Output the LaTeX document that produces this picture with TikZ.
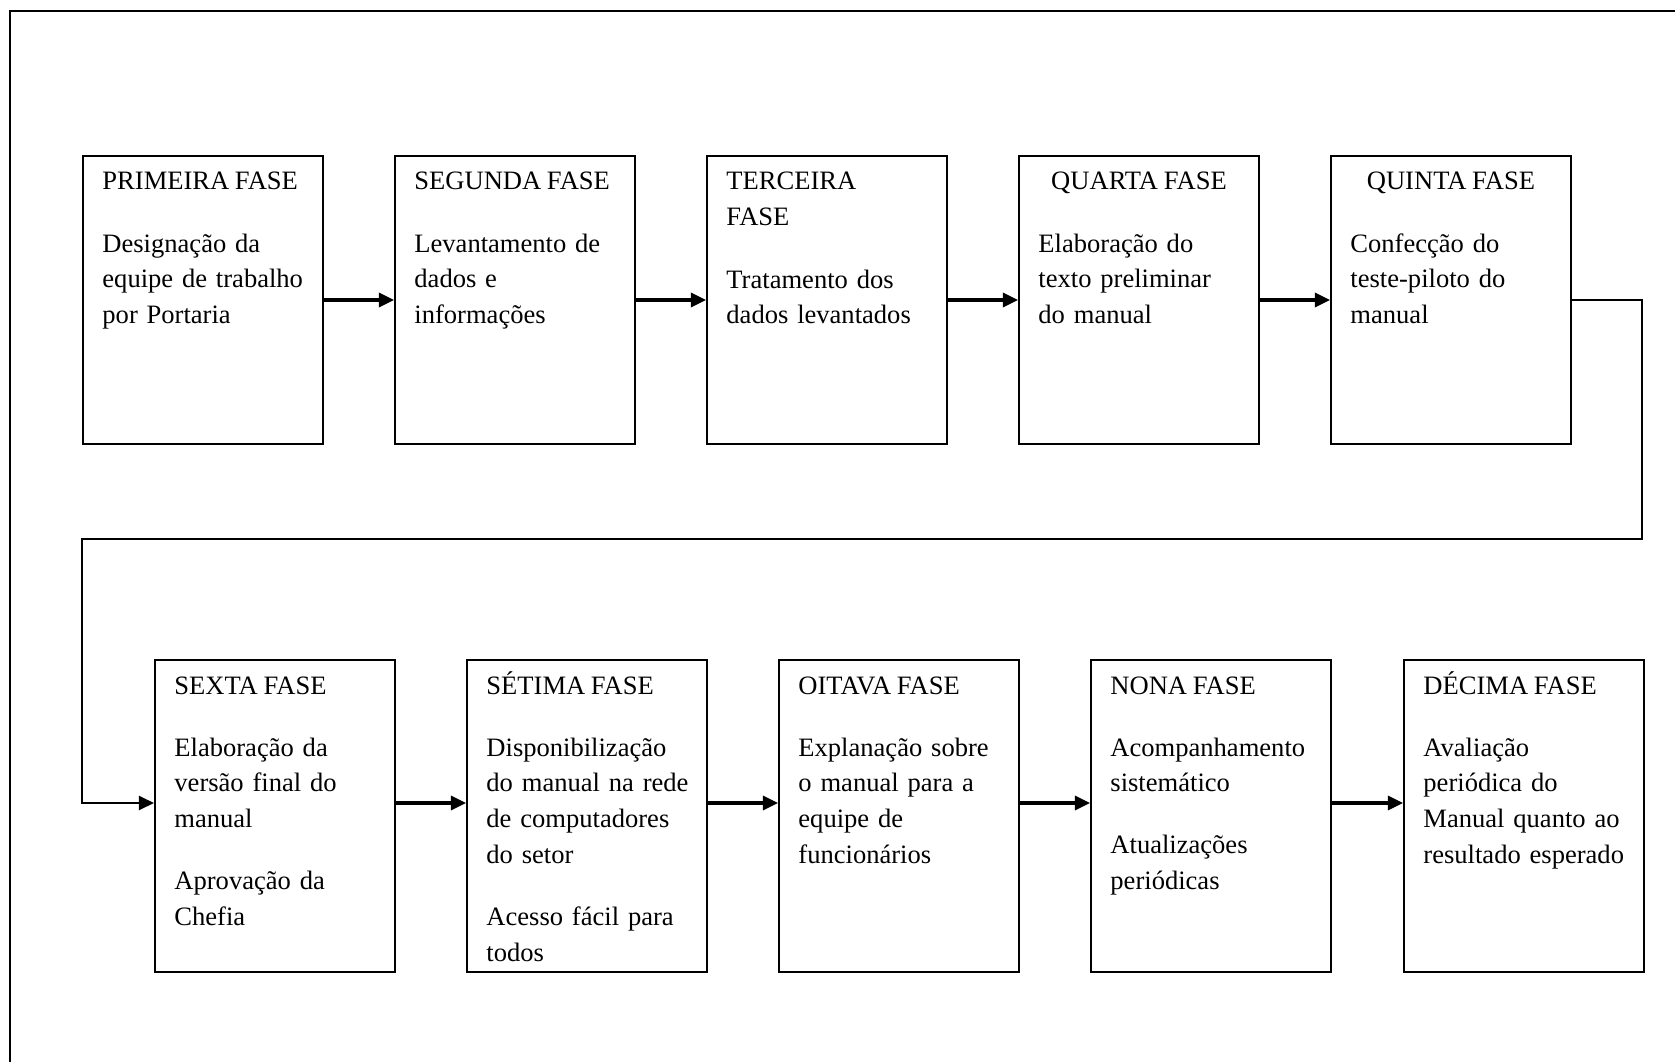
\documentclass[tikz,border=0pt]{standalone}
\usepackage{fontspec}
\setmainfont{Liberation Serif}[WordSpace=0.85]
\usetikzlibrary{arrows.meta,calc}
\begin{document}
\begin{tikzpicture}[x=0.45pt,y=-0.45pt,
  txt/.style={inner sep=0pt,font=\fontsize{11.95pt}{16.1pt}\selectfont},
  box/.style={draw,line width=0.9pt,minimum width=108pt,inner sep=0pt,anchor=north west},
  rowa/.style={box,minimum height=129.6pt},
  rowb/.style={box,minimum height=140.4pt},
  hd/.style={txt,anchor=base west},
  hdc/.style={txt,anchor=base},
  bd/.style={txt,anchor=base west,align=left,text width=100pt},
  arr/.style={-{Triangle[length=6.8pt,width=6.3pt]},line width=1.4pt},
  loopline/.style={-{Triangle[length=6.8pt,width=6.3pt]},line width=1.1pt}]
\useasboundingbox (0,0) rectangle (1675,1062);
% outer frame (partly outside the visible area)
\draw[line width=0.9pt] (10,1075) -- (10,11) -- (1690,11);

% row 1
\node[rowa] (b1) at (82,155) {};
\node[rowa] (b2) at (394,155) {};
\node[rowa] (b3) at (706,155) {};
\node[rowa] (b4) at (1018,155) {};
\node[rowa] (b5) at (1330,155) {};

\node[hd] (h1) at ($(b1.north west)+(20,35)$) {PRIMEIRA FASE};
\node[bd] (t1) at ($(b1.north west)+(20,97)$) {Designação da\\equipe de trabalho\\por Portaria};
\node[hd] (h2) at ($(b2.north west)+(20,35)$) {SEGUNDA FASE};
\node[bd] (t2) at ($(b2.north west)+(20,97)$) {Levantamento de\\dados e\\informações};
\node[bd] (h3) at ($(b3.north west)+(20,35)$) {TERCEIRA\\FASE};
\node[bd] (t3) at ($(b3.north west)+(20,133)$) {Tratamento dos\\dados levantados};
\node[hdc] (h4) at ($(b4.north)+(0,35)$) {QUARTA FASE};
\node[bd] (t4) at ($(b4.north west)+(20,97)$) {Elaboração do\\texto preliminar\\do manual};
\node[hdc] (h5) at ($(b5.north)+(0,35)$) {QUINTA FASE};
\node[bd] (t5) at ($(b5.north west)+(20,97)$) {Confecção do\\teste-piloto do\\manual};

% row 2
\node[rowb] (b6) at (154,659) {};
\node[rowb] (b7) at (466,659) {};
\node[rowb] (b8) at (778,659) {};
\node[rowb] (b9) at (1090,659) {};
\node[rowb] (b10) at (1403,659) {};

\node[hd] (h6) at ($(b6.north west)+(20,35)$) {SEXTA FASE};
\node[bd] (t6) at ($(b6.north west)+(20,97)$) {Elaboração da\\versão final do\\manual\\[11.8pt]Aprovação da\\Chefia};
\node[hd] (h7) at ($(b7.north west)+(20,35)$) {SÉTIMA FASE};
\node[bd] (t7) at ($(b7.north west)+(20,97)$) {Disponibilização\\do manual na rede\\de computadores\\do setor\\[11.8pt]Acesso fácil para\\todos};
\node[hd] (h8) at ($(b8.north west)+(20,35)$) {OITAVA FASE};
\node[bd] (t8) at ($(b8.north west)+(20,97)$) {Explanação sobre\\o manual para a\\equipe de\\funcionários};
\node[hd] (h9) at ($(b9.north west)+(20,35)$) {NONA FASE};
\node[bd] (t9) at ($(b9.north west)+(20,97)$) {Acompanhamento\\sistemático\\[11.8pt]Atualizações\\periódicas};
\node[hd] (h10) at ($(b10.north west)+(20,35)$) {DÉCIMA FASE};
\node[bd] (t10) at ($(b10.north west)+(20,97)$) {Avaliação\\periódica do\\Manual quanto ao\\resultado esperado};

% connectors row 1
\draw[arr] (b1.east) -- (b2.west);
\draw[arr] (b2.east) -- (b3.west);
\draw[arr] (b3.east) -- (b4.west);
\draw[arr] (b4.east) -- (b5.west);

% loop from row 1 to row 2
\coordinate (a2) at (0,803);
\coordinate (lr) at (1642,539);
\coordinate (ll) at (82,539);
\draw[loopline] (b5.east) -| (lr) -- (ll) |- (b6.west |- a2);

% connectors row 2
\draw[arr] (b6.east |- a2) -- (b7.west |- a2);
\draw[arr] (b7.east |- a2) -- (b8.west |- a2);
\draw[arr] (b8.east |- a2) -- (b9.west |- a2);
\draw[arr] (b9.east |- a2) -- (b10.west |- a2);
\end{tikzpicture}
\end{document}
